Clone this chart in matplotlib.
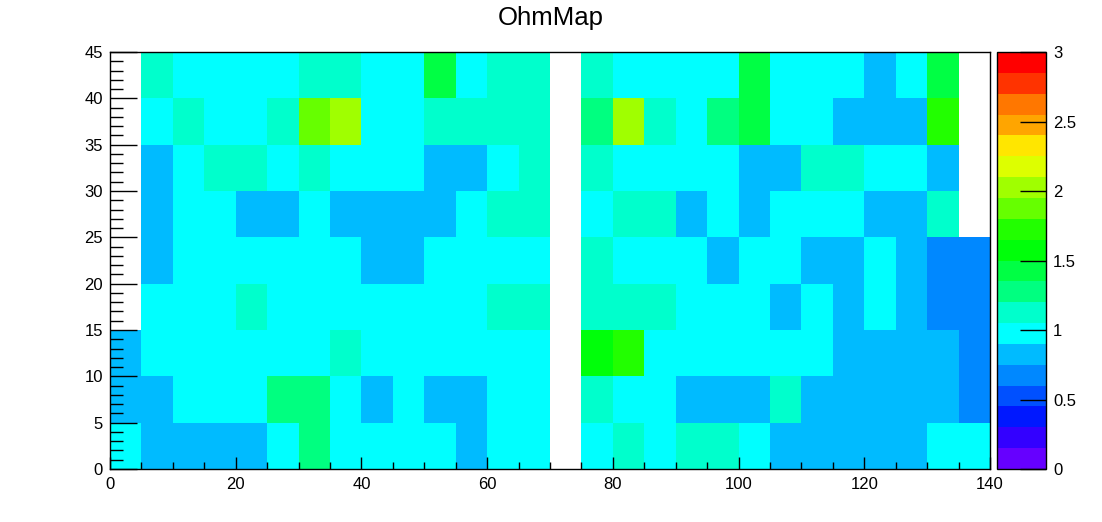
import numpy as np
import matplotlib
matplotlib.use("Agg")
import matplotlib.pyplot as plt
from matplotlib.colors import ListedColormap, BoundaryNorm
from matplotlib.ticker import MultipleLocator

plt.rcParams["font.family"] = ["Liberation Sans", "DejaVu Sans"]

title = "OhmMap"
x_edges = np.arange(0, 145, 5)
y_edges = np.arange(0, 50, 5)

# cell values, one row per y bin, top row (40-45) first; nan = empty bin
nan = np.nan
ohm_rows = [
    [nan, 1.12, 1.00, 1.00, 1.00, 1.00, 1.12, 1.12, 1.00, 1.00, 1.42, 1.00, 1.12, 1.12, nan, 1.12, 1.00, 1.00, 1.00, 1.00, 1.42, 1.00, 1.00, 1.00, 0.82, 1.00, 1.42, nan],
    [nan, 1.00, 1.12, 1.00, 1.00, 1.12, 1.88, 2.02, 1.00, 1.00, 1.12, 1.12, 1.12, 1.12, nan, 1.28, 2.02, 1.12, 1.00, 1.28, 1.42, 1.00, 1.00, 0.82, 0.82, 0.82, 1.72, nan],
    [nan, 0.82, 1.00, 1.12, 1.12, 1.00, 1.12, 1.00, 1.00, 1.00, 0.82, 0.82, 1.00, 1.12, nan, 1.12, 1.00, 1.00, 1.00, 1.00, 0.82, 0.82, 1.12, 1.12, 1.00, 1.00, 0.82, nan],
    [nan, 0.82, 1.00, 1.00, 0.82, 0.82, 1.00, 0.82, 0.82, 0.82, 0.82, 1.00, 1.12, 1.12, nan, 1.00, 1.12, 1.12, 0.82, 1.00, 0.82, 1.00, 1.00, 1.00, 0.82, 0.82, 1.12, nan],
    [nan, 0.82, 1.00, 1.00, 1.00, 1.00, 1.00, 1.00, 0.82, 0.82, 1.00, 1.00, 1.00, 1.00, nan, 1.12, 1.00, 1.00, 1.00, 0.82, 1.00, 1.00, 0.82, 0.82, 1.00, 0.82, 0.68, 0.68],
    [nan, 1.00, 1.00, 1.00, 1.12, 1.00, 1.00, 1.00, 1.00, 1.00, 1.00, 1.00, 1.12, 1.12, nan, 1.12, 1.12, 1.12, 1.00, 1.00, 1.00, 0.82, 1.00, 0.82, 1.00, 0.82, 0.68, 0.68],
    [0.82, 1.00, 1.00, 1.00, 1.00, 1.00, 1.00, 1.12, 1.00, 1.00, 1.00, 1.00, 1.00, 1.00, nan, 1.58, 1.72, 1.00, 1.00, 1.00, 1.00, 1.00, 1.00, 0.82, 0.82, 0.82, 0.82, 0.68],
    [0.82, 0.82, 1.00, 1.00, 1.00, 1.28, 1.28, 1.00, 0.82, 1.00, 0.82, 0.82, 1.00, 1.00, nan, 1.12, 1.00, 1.00, 0.82, 0.82, 0.82, 1.12, 0.82, 0.82, 0.82, 0.82, 0.82, 0.68],
    [1.00, 0.82, 0.82, 0.82, 0.82, 1.00, 1.28, 1.00, 1.00, 1.00, 1.00, 0.82, 1.00, 1.00, nan, 1.00, 1.12, 1.00, 1.12, 1.12, 1.00, 0.82, 0.82, 0.82, 0.82, 0.82, 1.00, 1.00],
]

palette = [
    "#6600ff", "#3300ff", "#0018ff", "#0050ff", "#0088ff",
    "#00bbff", "#00ffff", "#00ffcc", "#00ff80", "#00ff44",
    "#00ff0a", "#22ff00", "#66ff00", "#a0ff00", "#ddff00",
    "#ffe600", "#ffa500", "#ff7700", "#ff3300", "#ff0000",
]
levels = np.linspace(0, 3, 21)
cbar_ticks = [0, 0.5, 1, 1.5, 2, 2.5, 3]
cbar_labels = ["0", "0.5", "1", "1.5", "2", "2.5", "3"]

values = np.array(ohm_rows)[::-1]

fig = plt.figure(figsize=(11.02, 5.22), dpi=100)
W, H = 1102, 522
ax = fig.add_axes([110 / W, 1 - 469 / H, 880 / W, 417 / H])
cax = fig.add_axes([997 / W, 1 - 469 / H, 49 / W, 417 / H])

cmap = ListedColormap(palette)
norm = BoundaryNorm(levels, cmap.N)
mesh = ax.pcolormesh(x_edges, y_edges, np.ma.masked_invalid(values), cmap=cmap, norm=norm)

ax.set_xlim(0, 140)
ax.set_ylim(0, 45)
ax.xaxis.set_major_locator(MultipleLocator(20))
ax.xaxis.set_minor_locator(MultipleLocator(5))
ax.yaxis.set_major_locator(MultipleLocator(5))
ax.yaxis.set_minor_locator(MultipleLocator(1))
ax.tick_params(axis="x", which="major", direction="in", length=8.6, width=1, labelsize=12, pad=6)
ax.tick_params(axis="x", which="minor", direction="in", length=5, width=1)
ax.tick_params(axis="y", which="major", direction="in", length=19.4, width=1, labelsize=12, pad=5)
ax.tick_params(axis="y", which="minor", direction="in", length=9.4, width=1)
for s in ax.spines.values():
    s.set_linewidth(1)

cb = fig.colorbar(mesh, cax=cax, ticks=cbar_ticks)
cb.ax.set_yticklabels(cbar_labels)
cb.ax.tick_params(direction="in", length=18.7, width=1, labelsize=12, pad=5)
cb.ax.minorticks_off()
cb.outline.set_linewidth(1)

fig.text(0.5, 1 - 18 / H, title, ha="center", va="center", fontsize=18.5)

fig.savefig("out.png", dpi=100)
